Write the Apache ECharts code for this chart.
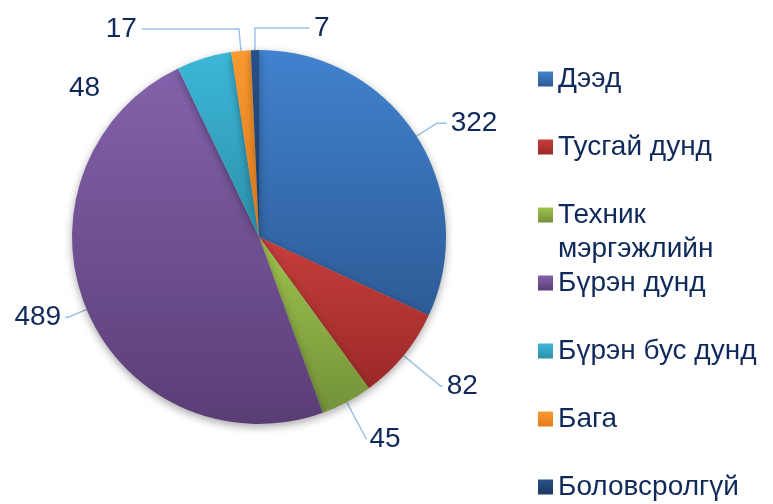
<!DOCTYPE html>
<html>
<head>
<meta charset="utf-8">
<script src="https://cdn.jsdelivr.net/npm/echarts@6/dist/echarts.min.js"></script>
<style>
  html, body { margin: 0; padding: 0; background: #fff; }
  #chart { width: 773px; height: 504px; }
</style>
</head>
<body>
<div id="chart"></div>
<script>
const categories = ['Дээд', 'Тусгай дунд', 'Техник мэргэжлийн', 'Бүрэн дунд', 'Бүрэн бус дунд', 'Бага', 'Боловсролгүй']
const values = [322, 82, 45, 489, 48, 17, 7]
// top / bottom colour of each slice gradient
const topColors = ['#4182cf', '#c63e3b', '#9ec24c', '#8362ab', '#3cb7d8', '#fa9a31', '#28508a']
const bottomColors = ['#2d5b96', '#9b2927', '#74923a', '#5b3d76', '#2c91aa', '#e27b1a', '#1a3961']
// leader line tweaks per slice: [length, length2, text distance, show line]
const leaders = [
  [24, 10, 4, true],
  [48, 2, 4, true],
  [42, 0, 3, true],
  [20, 3, 4, true],
  [-31, 108, 5, false],
  [22, 97, 5, true],
  [22, -55, -20, true]
]

const textColor = '#10295b'
const font = 'Liberation Sans, Arial, sans-serif'

const chart = echarts.init(document.getElementById('chart'))

const legendBase = {
  orient: 'vertical',
  left: 538,
  padding: 0,
  itemWidth: 15,
  itemHeight: 15,
  itemGap: 38,
  icon: 'rect',
  textStyle: { color: textColor, fontSize: 28, fontFamily: font, lineHeight: 30 }
}

const option = {
  animation: false,
  legend: [
    Object.assign({}, legendBase, { top: 64, data: categories.slice(0, 2) }),
    Object.assign({}, legendBase, {
      top: 164,
      data: categories.slice(2, 3),
      formatter: name => '\n' + name.replace(' ', '\n'),
      textStyle: { color: textColor, fontSize: 28, fontFamily: font, lineHeight: 34 }
    }),
    Object.assign({}, legendBase, { top: 268, data: categories.slice(3) })
  ],
  series: [
    {
      type: 'pie',
      center: [259, 237],
      radius: 187,
      startAngle: 90,
      clockwise: true,
      avoidLabelOverlap: false,
      label: {
        show: true,
        position: 'outside',
        formatter: '{c}',
        color: textColor,
        fontSize: 28,
        fontFamily: font
      },
      labelLine: {
        show: true,
        lineStyle: { color: '#9cc2e8', width: 1.5 }
      },
      emphasis: { disabled: true },
      itemStyle: {
        shadowBlur: 8,
        shadowOffsetY: 3,
        shadowColor: 'rgba(0,0,0,0.35)'
      },
      data: categories.map((c, i) => ({
        name: c,
        value: values[i],
        label: { distanceToLabelLine: leaders[i][2] },
        labelLine: { show: leaders[i][3], length: leaders[i][0], length2: leaders[i][1] },
        itemStyle: {
          color: new echarts.graphic.LinearGradient(0, 0, 0, 1, [
            { offset: 0, color: topColors[i] },
            { offset: 1, color: bottomColors[i] }
          ])
        }
      }))
    }
  ]
}

chart.setOption(option)
</script>
</body>
</html>
